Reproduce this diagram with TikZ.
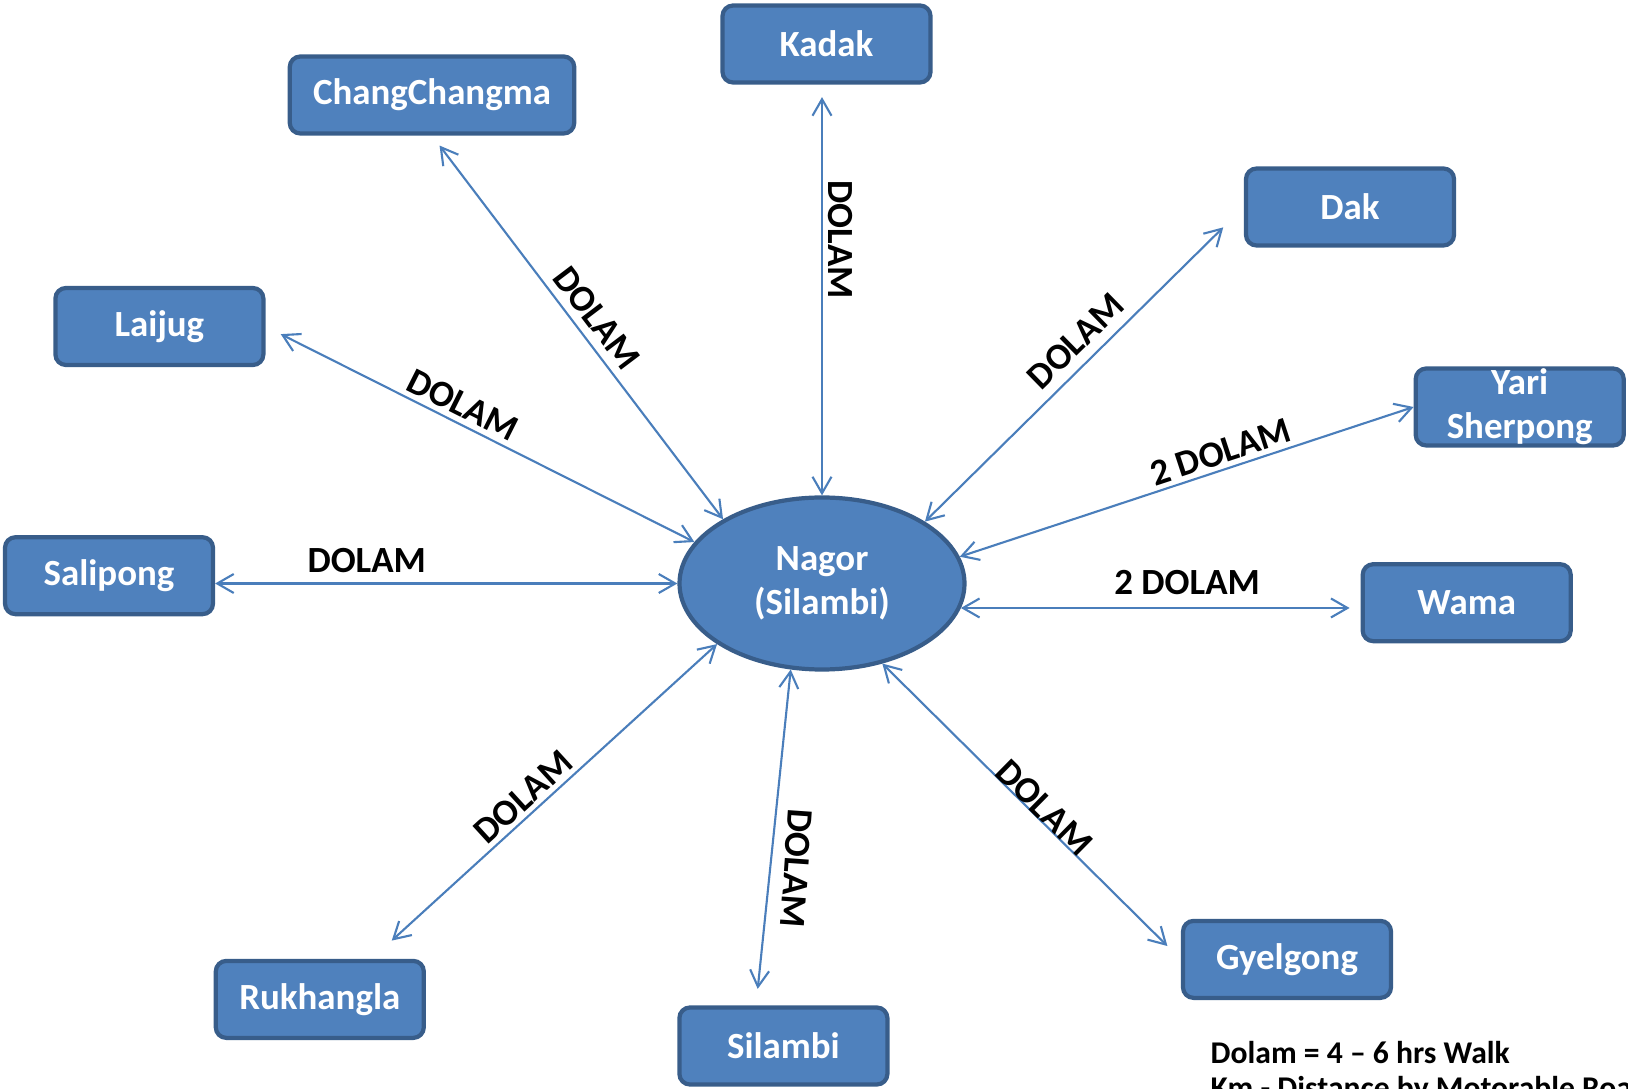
\documentclass[tikz,border=0pt]{standalone}
\usepackage{fontspec}
\setmainfont{Carlito}
\usetikzlibrary{arrows.meta,shapes.geometric}
\definecolor{boxfill}{HTML}{4F81BD}
\definecolor{boxline}{HTML}{385D8A}
\definecolor{linkblue}{HTML}{4A7EBB}
\tikzset{
	place/.style={draw=boxline, fill=boxfill, line width=1.2pt, rounded corners=3pt, minimum width=2.08cm, minimum height=0.77cm, inner sep=0pt, text=white, font=\fontsize{10.5}{12.6}\selectfont\bfseries, align=center},
	hub/.style={place, ellipse, rounded corners=0pt, minimum width=2.85cm, minimum height=1.72cm},
	route/.style={draw=linkblue, line width=0.6pt, {Straight Barb[length=4.7pt, width=5.4pt]}-{Straight Barb[length=4.7pt, width=5.4pt]}},
	dist/.style={text=black, inner sep=0pt, font=\fontsize{10.5}{12.6}\selectfont\bfseries}
}

\begin{document}
\begin{tikzpicture}
			%%%%% START %%%%%
			
			\clip (0, 0) rectangle (16.28, 10.88);
			
			\node[hub] (nagor) at (8.22, 5.045) {Nagor\\(Silambi)};
			
			\node[place] (kadak) at (8.265, 10.44) {Kadak};
			\node[place, minimum width=2.845cm] (changma) at (4.32, 9.93) {ChangChangma};
			\node[place] (dak) at (13.50, 8.81) {Dak};
			\node[place] (laijug) at (1.594, 7.615) {Laijug};
			\node[place] (yari) at (15.197, 6.81) {Yari\\Sherpong};
			\node[place] (salipong) at (1.09, 5.123) {Salipong};
			\node[place] (wama) at (14.667, 4.853) {Wama};
			\node[place] (gyelgong) at (12.87, 1.286) {Gyelgong};
			\node[place] (silambi) at (7.834, 0.42) {Silambi};
			\node[place] (rukhangla) at (3.198, 0.886) {Rukhangla};
			
			\draw[route, shorten >=0.125cm] (nagor.north) -- (nagor.north |- kadak.south)
				node[dist, pos=0.623, rotate=-90, yshift=0.18cm] {DOLAM};
			\draw[route, shorten >=0.125cm] (nagor.147) -- (changma.south)
				node[dist, pos=0.491, rotate=-52.9, yshift=0.213cm] {DOLAM};
			\draw[route, shorten >=0.17cm] (nagor.162) -- (laijug.east)
				node[dist, pos=0.559, rotate=-26.7, yshift=0.185cm] {DOLAM};
			\draw[route] (nagor.west) -- (nagor.west -| salipong.east)
				node[dist, pos=0.672, yshift=0.228cm] {DOLAM};
			\draw[route, shorten >=0.29cm] (nagor.31.8) -- (dak.west)
				node[dist, pos=0.522, rotate=44.4, yshift=0.229cm] {DOLAM};
			\draw[route] (nagor.11.4) -- (yari.west)
				node[dist, pos=0.587, rotate=18.2, yshift=0.177cm] {2 DOLAM};
			\draw[route, shorten >=0.11cm] (nagor.-10) -- (nagor.-10 -| wama.west)
				node[dist, pos=0.566, yshift=0.255cm] {2 DOLAM};
			\draw[route, shorten >=0.19cm] (nagor.-53.5) -- (gyelgong.west)
				node[dist, pos=0.515, rotate=-44.6, yshift=0.116cm] {DOLAM};
			\draw[route, shorten >=0.166cm] (nagor.-110) -- (silambi.124)
				node[dist, pos=0.587, rotate=-94, yshift=0.26cm] {DOLAM};
			\draw[route, shorten >=0.27cm] (nagor.-150) -- (rukhangla.38)
				node[dist, pos=0.527, rotate=42.4, yshift=0.173cm] {DOLAM};
			
			\node[dist, anchor=base west, align=left, font=\fontsize{9}{9.9}\selectfont\bfseries] (legend) at (12.10, -0.103) {Dolam = 4 -- 6 hrs Walk\\Km - Distance by Motorable Road};
			
			%%%%% END %%%%%
\end{tikzpicture}
\end{document}
